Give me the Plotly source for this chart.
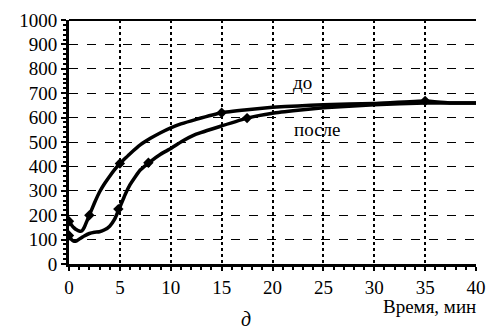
import plotly.graph_objects as go

# "до" curve
t_do = [0, 0.25, 0.5, 0.75, 1.0, 1.25, 1.5, 1.75, 2.0, 2.5, 3.0, 3.5, 4.0, 4.5, 5.0, 5.5, 6.0, 7.0, 8.0, 9.0, 10.0, 11.0, 12.5, 15.0, 17.5, 20.0, 22.5, 25.0, 30.0, 35.0, 37.5, 40.0]
v_do = [175, 160, 148, 140, 135, 135, 150, 175, 200, 250, 295, 330, 360, 388, 412, 432, 452, 488, 515, 538, 558, 574, 593, 620, 632, 642, 648, 653, 658, 668, 660, 660]
# "после" curve
t_posle = [0, 0.25, 0.5, 0.75, 1.0, 1.5, 2.0, 2.5, 3.0, 3.5, 4.0, 4.5, 5.0, 5.5, 6.0, 6.5, 7.0, 8.0, 9.0, 10.0, 11.0, 12.5, 15.0, 17.5, 20.0, 22.5, 25.0, 30.0, 35.0, 40.0]
v_posle = [117, 100, 93, 95, 102, 115, 125, 130, 132, 140, 155, 185, 233, 283, 325, 357, 385, 420, 450, 473, 500, 532, 566, 598, 618, 630, 640, 653, 660, 660]
# marker points
mt_do = [0, 2, 5, 15, 35]
mv_do = [175, 200, 412, 620, 668]
mt_posle = [0, 4.85, 7.8, 17.5]
mv_posle = [117, 225, 415, 598]

x_ticks = [0, 5, 10, 15, 20, 25, 30, 35, 40]
y_ticks = [0, 100, 200, 300, 400, 500, 600, 700, 800, 900, 1000]

FONT = "serif"
FONT2 = "'Liberation Serif'"

fig = go.Figure()
fig.add_trace(go.Scatter(x=t_do, y=v_do, mode="lines", line=dict(color="black", width=3.5, shape="spline", smoothing=0.3)))
fig.add_trace(go.Scatter(x=t_posle, y=v_posle, mode="lines", line=dict(color="black", width=3.5, shape="spline", smoothing=0.3)))
fig.add_trace(go.Scatter(x=mt_do + mt_posle, y=mv_do + mv_posle, mode="markers",
                         marker=dict(symbol="diamond", size=8, color="black")))

fig.add_annotation(x=22.9, y=744, text="до", showarrow=False, font=dict(family=FONT, size=19, color="black"))
fig.add_annotation(x=24.4, y=551, text="после", showarrow=False, font=dict(family=FONT, size=19, color="black"))
fig.add_annotation(xref="paper", yref="paper", x=1.005, y=-0.176, xanchor="right", yanchor="middle",
                   text="Время, мин", showarrow=False, font=dict(family=FONT, size=19, color="black"))
fig.add_annotation(xref="paper", yref="paper", x=0.434, y=-0.225, xanchor="center", yanchor="middle",
                   text="<i>д</i>", showarrow=False, font=dict(family=FONT, size=20, color="black"))

fig.update_layout(
    width=493, height=331,
    margin=dict(l=69, r=7, t=20, b=67),
    paper_bgcolor="white", plot_bgcolor="white",
    showlegend=False,
    font=dict(family=FONT, color="black"),
    xaxis=dict(range=[0, 40], tickvals=x_ticks, ticktext=[str(v) for v in x_ticks],
               showgrid=True, gridcolor="black", gridwidth=1.5, griddash="dot",
               showline=True, linecolor="black", linewidth=3, mirror=False,
               ticks="outside", ticklen=4, tickwidth=2, tickcolor="black",
               ticklabelstandoff=0, ticklabeloverflow="allow",
               tickfont=dict(family=FONT2, size=19, color="black"),
               minor=dict(dtick=1, ticks="outside", ticklen=3, tickwidth=1.5, tickcolor="black", showgrid=False),
               zeroline=False),
    yaxis=dict(range=[0, 1000], tickvals=y_ticks, ticktext=[str(v) for v in y_ticks],
               showgrid=True, gridcolor="black", gridwidth=1.2, griddash="dash",
               showline=True, linecolor="black", linewidth=3,
               ticks="outside", ticklen=5, tickwidth=2, tickcolor="black",
               tickfont=dict(family=FONT, size=19, color="black"),
               minor=dict(dtick=20, ticks="outside", ticklen=3, tickwidth=1.5, tickcolor="black", showgrid=False),
               zeroline=False),
)
# top frame line
fig.add_shape(type="line", xref="paper", yref="paper", x0=0, x1=1, y0=1, y1=1, line=dict(color="black", width=2))

fig.write_html("out.html")
